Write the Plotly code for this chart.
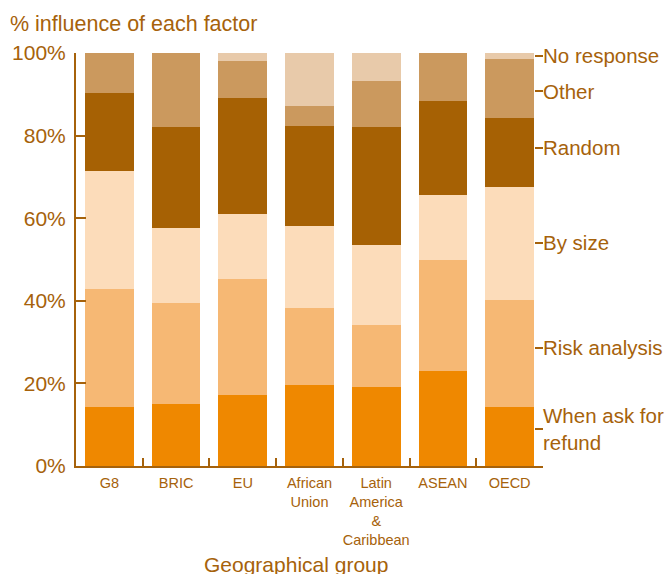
import plotly.graph_objects as go

categories = ["G8", "BRIC", "EU", "African<br>Union", "Latin<br>America<br>&<br>Caribbean", "ASEAN", "OECD"]

series_names = ["When ask for refund", "Risk analysis", "By size", "Random", "Other", "No response"]
refund = [14.3, 15.0, 17.2, 19.6, 19.2, 23.0, 14.2]
risk = [28.6, 24.5, 28.1, 18.7, 14.9, 26.9, 26.0]
by_size = [28.6, 18.2, 15.6, 19.7, 19.5, 15.6, 27.4]
random_ = [18.9, 24.3, 28.3, 24.4, 28.6, 22.9, 16.7]
other = [9.6, 18.0, 8.8, 4.7, 11.1, 11.6, 14.3]
no_response = [0.0, 0.0, 2.0, 12.9, 6.7, 0.0, 1.4]

right_labels = ["When ask for<br>refund", "Risk analysis", "By size", "Random", "Other", "No response"]
right_label_pos = [8.9, 28.5, 54.0, 77.0, 90.7, 99.3]

y_ticks = [0, 20, 40, 60, 80, 100]
y_tick_text = ["0%", "20%", "40%", "60%", "80%", "100%"]

colors = ["#EF8800", "#F6B874", "#FCDCBA", "#A66104", "#CB995E", "#E8CAAA"]
brown = "#A6620B"
font_family = "Liberation Sans, Arial, sans-serif"

fig = go.Figure()
for name, vals, col in zip(series_names,
                           [refund, risk, by_size, random_, other, no_response],
                           colors):
    fig.add_trace(go.Bar(x=categories, y=vals, name=name,
                         marker=dict(color=col, line=dict(width=0))))

# invisible trace to activate right-hand label axis
fig.add_trace(go.Scatter(x=[categories[0]], y=[None], yaxis="y2",
                         showlegend=False, hoverinfo="skip", mode="markers"))

fig.update_layout(
    width=672, height=574,
    margin=dict(l=76, r=129, t=53, b=108, autoexpand=False),
    plot_bgcolor="white", paper_bgcolor="white",
    barmode="stack", bargap=0.27,
    showlegend=False,
    font=dict(family=font_family, color=brown),
    xaxis=dict(
        type="category", showline=True, linecolor=brown, linewidth=2,
        ticks="inside", tickson="boundaries", ticklen=8, tickwidth=2, tickcolor=brown,
        tickfont=dict(size=14.5, color=brown), showgrid=False, zeroline=False,
        tickangle=0, automargin=False, ticklabelstandoff=3,
    ),
    yaxis=dict(
        range=[0, 100], tickvals=y_ticks, ticktext=y_tick_text,
        showline=True, linecolor=brown, linewidth=2,
        ticks="inside", ticklen=10, tickwidth=2, tickcolor=brown,
        tickfont=dict(size=21, color=brown), showgrid=False, zeroline=False,
        ticklabelstandoff=4, automargin=False,
    ),
    yaxis2=dict(
        overlaying="y", side="right", range=[0, 100],
        tickvals=right_label_pos, ticktext=right_labels,
        ticks="inside", ticklen=8, tickwidth=1.5, tickcolor=brown,
        showline=False, showgrid=False, zeroline=False,
        tickfont=dict(size=20.5, color=brown), ticklabelstandoff=-1,
        automargin=False,
    ),
    annotations=[
        dict(text="% influence of each factor", xref="paper", yref="paper",
             x=-68/467, y=1 + 29/413, xanchor="left", yanchor="middle",
             showarrow=False, font=dict(size=21.5, color=brown)),
        dict(text="Geographical group", xref="paper", yref="paper",
             x=(296 - 76)/467, y=-(564 - 466)/413, xanchor="center", yanchor="middle",
             showarrow=False, font=dict(size=21, color=brown)),
    ],
)

fig.write_html("out.html", post_script="document.body.style.margin='0';",
               config={"displayModeBar": False})
